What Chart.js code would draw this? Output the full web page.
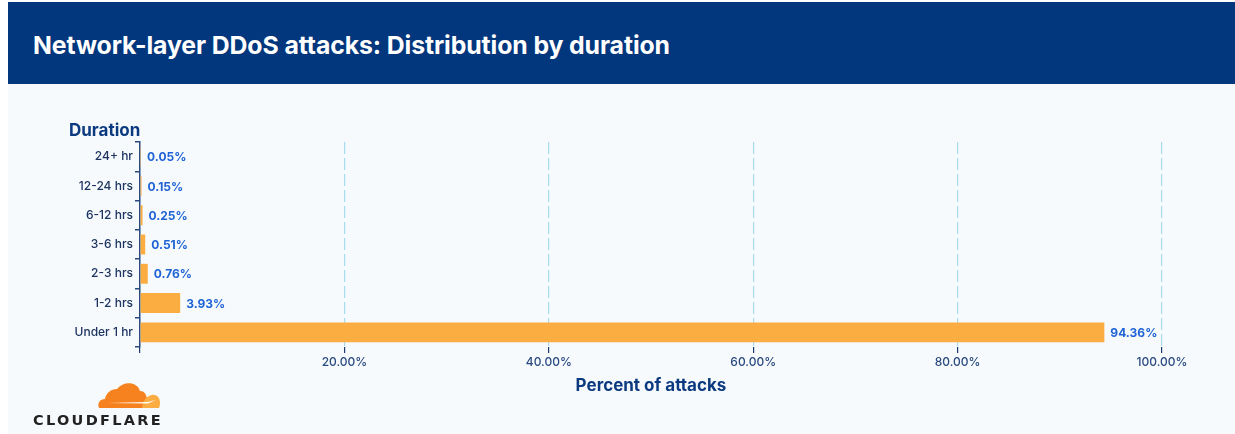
<!DOCTYPE html>
<html>
<head>
<meta charset="utf-8">
<script src="https://cdn.jsdelivr.net/npm/chart.js@4.4.1/dist/chart.umd.min.js"></script>
<style>
  html, body { margin: 0; padding: 0; background: #ffffff; }
  body { width: 1235px; height: 434px; position: relative; overflow: hidden; font-family: Inter, "Noto Sans", sans-serif; }
  #panel { position: absolute; left: 8px; top: 2px; right: 0; bottom: 0; background: #f6fafc; }
  #header { position: absolute; left: 8px; top: 2px; right: 0; height: 82px; background: #02367d; }
  #header h1 { margin: 0; position: absolute; left: 25px; top: 28px; color: #ffffff; font-size: 24.8px; font-weight: 700; letter-spacing: -0.1px; line-height: 30px; }
  #ytitle { position: absolute; left: 69px; top: 120px; color: #0b3a80; font-size: 17px; font-weight: 700; line-height: 20px; }
  #wrap { position: absolute; left: 0; top: 0; width: 1235px; height: 434px; }
  #logo { position: absolute; left: 30px; top: 379px; }
  #logotext { position: absolute; left: 33px; top: 411px; font-size: 14.5px; font-weight: 800; letter-spacing: 2.3px; color: #222222; line-height: 18px; font-family: "DejaVu Sans", Inter, sans-serif; }
</style>
</head>
<body>
<div id="panel"></div>
<div id="header"><h1>Network-layer DDoS attacks: Distribution by duration</h1></div>
<div id="wrap"><canvas id="c" width="1235" height="434"></canvas></div>
<div id="ytitle">Duration</div>
<svg id="logo" width="140" height="34" viewBox="0 0 140 34">
  <path d="M69 29 C67 24 70 20 75 20 C76 14 81 10 87 10 C93 2 107 2 110 12 C116 12 118 18 117 29 Z" fill="#f6821f"/>
  <path d="M112 29 C113 22 116 17 122 16 C127 15 130 19 130 24 C130 26 129.5 28 129 29 Z" fill="#fbad41"/>
  <path d="M77 24 L118 23 L126 21 L118 24.5 Z" fill="#ffffff"/>
</svg>
<div id="logotext">CLOUDFLARE</div>
<script>
const categories = ["24+ hr", "12-24 hrs", "6-12 hrs", "3-6 hrs", "2-3 hrs", "1-2 hrs", "Under 1 hr"];
const percentOfAttacks = [0.05, 0.15, 0.25, 0.51, 0.76, 3.93, 94.36];
const xTickValues = [0, 20, 40, 60, 80, 100];

const valueLabels = {
  id: 'valueLabels',
  afterDatasetsDraw(chart) {
    const ctx = chart.ctx;
    const meta = chart.getDatasetMeta(0);
    ctx.save();
    ctx.font = '700 12px Inter, "Noto Sans", sans-serif';
    ctx.fillStyle = '#1f63d6';
    ctx.textBaseline = 'middle';
    ctx.textAlign = 'left';
    meta.data.forEach((bar, i) => {
      const v = chart.data.datasets[0].data[i];
      ctx.fillText(v.toFixed(2) + '%', bar.x + 6, bar.y + 1);
    });
    ctx.restore();
  }
};

new Chart(document.getElementById('c'), {
  type: 'bar',
  data: {
    labels: categories,
    datasets: [{
      data: percentOfAttacks,
      backgroundColor: '#fbad41',
      borderWidth: 0,
      barPercentage: 0.68,
      categoryPercentage: 1.0,
      minBarLength: 1
    }]
  },
  options: {
    indexAxis: 'y',
    responsive: false,
    animation: false,
    events: [],
    layout: { padding: { left: 0, right: 73, top: 142, bottom: 0 } },
    plugins: { legend: { display: false }, tooltip: { enabled: false }, title: { display: false } },
    scales: {
      x: {
        type: 'linear',
        min: 0,
        max: 100,
        afterBuildTicks(scale) { scale.ticks = xTickValues.map(v => ({ value: v })); },
        afterFit(scale) { scale.height = 87; },
        grid: {
          color: '#a7dcec',
          lineWidth: 1.2,
          tickColor: '#1d3a6b',
          tickLength: 6,
          tickWidth: 1.2
        },
        border: { display: false, dash: [12, 4] },
        ticks: {
          color: '#2a4a80',
          font: { family: 'Inter, "Noto Sans", sans-serif', size: 12, weight: 500 },
          padding: 2,
          maxRotation: 0,
          callback: (v) => v === 0 ? '' : v.toFixed(2) + '%'
        },
        title: {
          display: true,
          text: 'Percent of attacks',
          color: '#0b3a80',
          font: { family: 'Inter, "Noto Sans", sans-serif', size: 17, weight: 700 },
          padding: { top: 0, bottom: 38 }
        }
      },
      y: {
        afterFit(scale) { scale.width = 140; },
        border: { display: true, color: '#2a4a80', width: 1.5 },
        grid: {
          drawOnChartArea: false,
          color: '#2a4a80',
          tickLength: 5,
          lineWidth: 1.5
        },
        ticks: {
          color: '#1d3461',
          font: { family: 'Inter, "Noto Sans", sans-serif', size: 12, weight: 500 },
          padding: 2
        }
      }
    }
  },
  plugins: [valueLabels]
});
</script>
</body>
</html>
